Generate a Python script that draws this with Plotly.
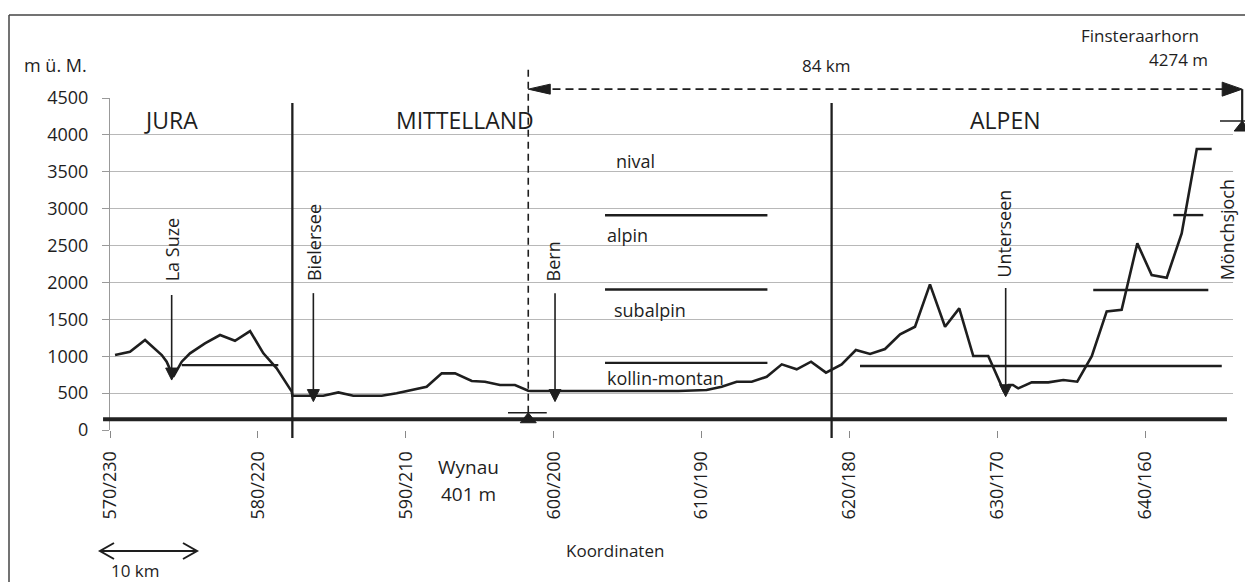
import plotly.graph_objects as go

# ---------------- data ----------------
profile_km = [570.34, 571.35, 572.37, 573.50, 573.83, 574.28, 574.85, 575.41, 576.42, 577.44,
              578.45, 579.47, 580.37, 581.27, 582.29, 582.33, 584.42, 585.44, 586.45, 588.37,
              589.38, 590.40, 591.41, 592.43, 593.33, 594.46, 595.35, 596.37, 597.38, 598.28,
              598.45, 608.43, 610.34, 611.36, 612.37, 613.39, 614.40, 615.42, 616.43, 617.40,
              618.41, 619.47, 620.43, 621.39, 622.40, 623.42, 624.43, 625.44, 626.46, 627.42,
              628.37, 629.38, 630.45, 630.75, 631.05, 631.41, 632.32, 633.44, 634.46, 635.40,
              636.38, 637.39, 638.40, 639.46, 640.43, 641.45, 642.46, 643.48, 644.49]
profile_m = [1016, 1061, 1220, 1016, 926, 722, 926, 1039, 1174, 1287,
             1210, 1341, 1039, 836, 520, 465, 465, 510, 465, 465,
             497, 542, 587, 768, 768, 664, 655, 610, 610, 533,
             528, 528, 542, 587, 655, 655, 722, 890, 822, 926,
             777, 890, 1084, 1030, 1098, 1297, 1400, 1974, 1400, 1649,
             1003, 1003, 520, 610, 610, 565, 646, 646, 677, 655,
             1000, 1608, 1630, 2530, 2100, 2064, 2665, 3808, 3808]

tick_km = [570, 580, 590, 600, 610, 620, 630, 640]
tick_labels = ["570/230", "580/220", "590/210", "600/200", "610/190", "620/180", "630/170", "640/160"]
y_ticks = [0, 500, 1000, 1500, 2000, 2500, 3000, 3500, 4000, 4500]

region_names = ["JURA", "MITTELLAND", "ALPEN"]
region_label_km = [574.1, 594.0, 630.5]
region_label_m = 4200
boundary_km = [582.33, 618.79]

place_names = ["La Suze", "Bielersee", "Bern", "Unterseen", "Mönchsjoch"]
place_label_km = [574.2, 583.75, 599.97, 630.45, 645.55]
place_label_bottom_m = [1990, 1990, 1990, 2040, 2000]
arrow_km = [574.17, 583.75, 600.09, 630.56]
arrow_tip_m = [677, 385, 385, 451]
arrow_top_m = [1830, 1855, 1855, 1925]

zone_names = ["nival", "alpin", "subalpin", "kollin-montan"]
zone_label_km = [604.07, 603.47, 603.94, 603.47]
zone_label_m = [3650, 2640, 1630, 705]
zone_line_m = [2910, 1905, 910]
zone_line_km = [603.47, 614.45]

level_names = ["La Suze", "Alpen montan", "Alpen subalpin", "Alpen alpin"]
level_m = [880, 867, 1897, 2913]
level_from_km = [574.85, 620.71, 636.48, 641.89]
level_to_km = [581.38, 645.17, 644.26, 643.92]

base_m = 145
base_km = [569.53, 645.52]

wynau_km = 598.28
wynau_mark_m = 234
wynau_bar_km = [596.91, 599.53]
wynau_top_m = 4905

span_m = 4620
finster_km = 646.55
finster_mark_m = 4188
finster_bar_km = [645.05, 647.6]
finster_low_m = 4090

# ---------------- layout geometry ----------------
OFF = 8                      # page body margin of the browser
W_FIG, H_FIG = 1253 - OFF, 582 - OFF
L, R, T, B = 110 - OFF, 20, 98 - OFF, 152
PW = W_FIG - L - R
PH = H_FIG - T - B
PX_PER_KM = 14.79
X0 = 570.0
X1 = X0 + PW / PX_PER_KM
Y0, Y1 = 0, 4500

def kx(km):
    return (km - X0) / (X1 - X0)

def my(m):
    return (m - Y0) / (Y1 - Y0)

def pxx(px):
    return (px - OFF - L) / PW

def pxy(py):
    return (T + PH - (py - OFF)) / PH

FONT = "Open Sans"
INK = "#1e1e1e"
GRID = "#b8b8b8"

fig = go.Figure()
fig.add_trace(go.Scatter(x=profile_km, y=profile_m, mode="lines",
                         line=dict(color=INK, width=2.6), hoverinfo="skip", showlegend=False))

shapes = []
annotations = []

# frame
shapes.append(dict(type="line", xref="paper", yref="paper", x0=pxx(9), x1=pxx(1260),
                   y0=pxy(15), y1=pxy(15), line=dict(color="#444", width=1.5)))
shapes.append(dict(type="line", xref="paper", yref="paper", x0=pxx(9), x1=pxx(9),
                   y0=pxy(15), y1=pxy(590), line=dict(color="#444", width=1.5)))

# base thick line
shapes.append(dict(type="line", xref="paper", yref="y", x0=kx(base_km[0]), x1=kx(base_km[1]),
                   y0=base_m, y1=base_m, line=dict(color="#222", width=4)))

# region boundaries
for b in boundary_km:
    shapes.append(dict(type="line", xref="x", yref="paper", x0=b, x1=b,
                       y0=my(-108), y1=my(4432), line=dict(color=INK, width=2.3)))

# level lines
for m, a, b in zip(level_m, level_from_km, level_to_km):
    shapes.append(dict(type="line", xref="x", yref="y", x0=a, x1=b, y0=m, y1=m,
                       line=dict(color=INK, width=2.4)))
for m in zone_line_m:
    shapes.append(dict(type="line", xref="x", yref="y", x0=zone_line_km[0], x1=zone_line_km[1],
                       y0=m, y1=m, line=dict(color=INK, width=2.4)))

# place arrows
for k, tip, top in zip(arrow_km, arrow_tip_m, arrow_top_m):
    shapes.append(dict(type="line", xref="x", yref="y", x0=k, x1=k, y0=top, y1=tip + 100,
                       line=dict(color=INK, width=1.6)))
    shapes.append(dict(type="path", xref="x", yref="y", xsizemode="pixel", ysizemode="pixel",
                       xanchor=k, yanchor=tip, path="M0,0 L-6,12 L6,12 Z",
                       fillcolor=INK, line=dict(color=INK, width=1)))

# Wynau dashed vertical and water mark
shapes.append(dict(type="line", xref="x", yref="paper", x0=wynau_km, x1=wynau_km,
                   y0=my(wynau_mark_m), y1=my(wynau_top_m),
                   line=dict(color=INK, width=1.6, dash="7px,5px")))
shapes.append(dict(type="line", xref="x", yref="y", x0=wynau_bar_km[0], x1=wynau_bar_km[1],
                   y0=wynau_mark_m, y1=wynau_mark_m, line=dict(color=INK, width=1.6)))
shapes.append(dict(type="path", xref="x", yref="y", xsizemode="pixel", ysizemode="pixel",
                   xanchor=wynau_km, yanchor=wynau_mark_m, path="M0,0 L-8,-10 L8,-10 Z",
                   fillcolor=INK, line=dict(color=INK, width=1)))

# 84 km dashed span arrow
shapes.append(dict(type="line", xref="paper", yref="paper", x0=kx(wynau_km) + 0.01,
                   x1=kx(finster_km) - 0.012, y0=my(span_m), y1=my(span_m),
                   line=dict(color=INK, width=1.8, dash="8px,5px")))
shapes.append(dict(type="path", xref="paper", yref="paper", xsizemode="pixel", ysizemode="pixel",
                   xanchor=kx(wynau_km), yanchor=my(span_m), path="M0,0 L22,5 L22,-5 Z",
                   fillcolor=INK, line=dict(color=INK, width=1)))
shapes.append(dict(type="path", xref="paper", yref="paper", xsizemode="pixel", ysizemode="pixel",
                   xanchor=kx(finster_km), yanchor=my(span_m), path="M0,0 L-20,7 L-20,-7 Z",
                   fillcolor=INK, line=dict(color=INK, width=1)))
# Finsteraarhorn mark
shapes.append(dict(type="line", xref="paper", yref="paper", x0=kx(finster_km), x1=kx(finster_km),
                   y0=my(span_m), y1=my(finster_low_m), line=dict(color=INK, width=2.2)))
shapes.append(dict(type="line", xref="paper", yref="paper", x0=kx(finster_bar_km[0]),
                   x1=kx(finster_bar_km[1]), y0=my(finster_mark_m), y1=my(finster_mark_m),
                   line=dict(color=INK, width=1.6)))
shapes.append(dict(type="path", xref="paper", yref="paper", xsizemode="pixel", ysizemode="pixel",
                   xanchor=kx(finster_km), yanchor=my(finster_mark_m), path="M0,0 L-8,-10 L8,-10 Z",
                   fillcolor=INK, line=dict(color=INK, width=1)))

# 10 km scale arrow
shapes.append(dict(type="path", xref="paper", yref="paper", xsizemode="pixel", ysizemode="pixel",
                   xanchor=pxx(100), yanchor=pxy(551),
                   path="M14,8 L0,0 L14,-8 M0,0 L97,0 M83,8 L97,0 L83,-8",
                   line=dict(color=INK, width=2)))

def txt(text, x, y, xref, yref, size=18, xanchor="center", yanchor="middle", angle=0):
    annotations.append(dict(text=text, x=x, y=y, xref=xref, yref=yref, showarrow=False,
                            xanchor=xanchor, yanchor=yanchor, textangle=angle,
                            font=dict(family=FONT, size=size, color=INK)))

for n, k in zip(region_names, region_label_km):
    txt(n, k, region_label_m, "x", "y", size=23)
for n, k, m in zip(place_names, place_label_km, place_label_bottom_m):
    txt(n, k, m, "x", "y", size=18, yanchor="bottom", angle=-90)
for n, k, m in zip(zone_names, zone_label_km, zone_label_m):
    txt(n, k, m, "x", "y", size=18, xanchor="left")

txt("m ü. M.", pxx(22), pxy(65), "paper", "paper", size=18, xanchor="left")
txt("84 km", pxx(826), pxy(65), "paper", "paper", size=17)
txt("Finsteraarhorn", pxx(1140), pxy(35), "paper", "paper", size=17)
txt("4274 m", pxx(1178), pxy(60), "paper", "paper", size=17)
txt("Wynau", pxx(468), pxy(467), "paper", "paper", size=19)
txt("401 m", pxx(468), pxy(494), "paper", "paper", size=19)
txt("Koordinaten", pxx(615), pxy(550), "paper", "paper", size=17)
txt("10 km", pxx(135), pxy(570), "paper", "paper", size=17)

fig.update_layout(
    width=W_FIG, height=H_FIG,
    margin=dict(l=L, r=R, t=T, b=B, pad=0),
    paper_bgcolor="white", plot_bgcolor="white",
    font=dict(family=FONT, size=17, color=INK),
    showlegend=False,
    shapes=shapes, annotations=annotations,
    xaxis=dict(range=[X0, X1], tickmode="array", tickvals=tick_km, ticktext=tick_labels,
               tickangle=-90, showgrid=False, zeroline=False, showline=False,
               ticks="outside", ticklen=7, tickcolor="#888", tickwidth=1,
               ticklabelstandoff=6,
               tickfont=dict(family=FONT, size=18, color=INK)),
    yaxis=dict(range=[Y0, Y1], tickmode="array", tickvals=y_ticks,
               showgrid=True, gridcolor=GRID, gridwidth=1, zeroline=False,
               showline=True, linecolor="#999", linewidth=1,
               ticks="outside", ticklen=7, tickcolor="#999", tickwidth=1,
               ticklabelstandoff=10,
               tickfont=dict(family=FONT, size=18, color=INK)),
)

fig.write_html("out.html",
               post_script="document.documentElement.style.overflow='hidden';"
                           "document.body.style.overflow='hidden';")
